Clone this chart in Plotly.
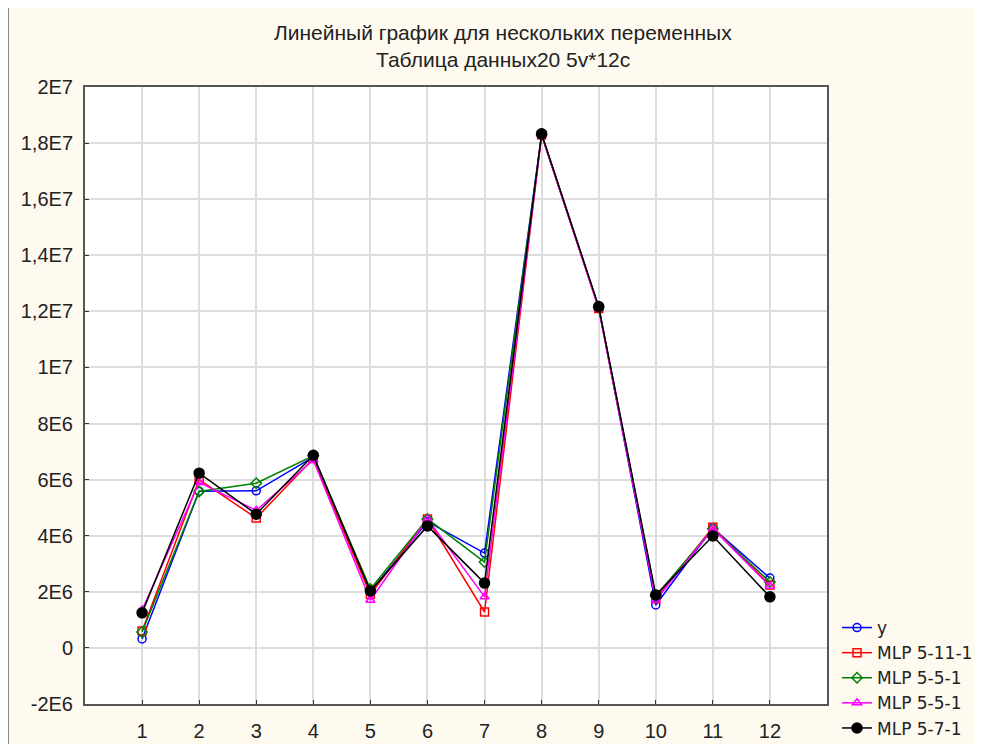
import plotly.graph_objects as go

cases = list(range(1, 13))
y_obs = [0.32e6, 5.59e6, 5.6e6, 6.8e6, 2.0e6, 4.5e6, 3.38e6, 18.3e6, 12.15e6, 1.53e6, 4.27e6, 2.49e6]
mlp_5_11_1 = [0.6e6, 6.0e6, 4.63e6, 6.75e6, 1.9e6, 4.6e6, 1.28e6, 18.3e6, 12.1e6, 1.75e6, 4.3e6, 2.24e6]
mlp_5_5_1a = [0.57e6, 5.58e6, 5.87e6, 6.85e6, 2.1e6, 4.6e6, 3.06e6, 18.3e6, 12.15e6, 1.85e6, 4.25e6, 2.35e6]
mlp_5_5_1b = [1.35e6, 5.9e6, 4.9e6, 6.7e6, 1.7e6, 4.6e6, 1.82e6, 18.3e6, 12.1e6, 1.7e6, 4.25e6, 2.2e6]
mlp_5_7_1 = [1.25e6, 6.23e6, 4.77e6, 6.87e6, 2.03e6, 4.35e6, 2.31e6, 18.33e6, 12.17e6, 1.89e6, 3.99e6, 1.82e6]

y_tickvals = [-2e6, 0, 2e6, 4e6, 6e6, 8e6, 1e7, 1.2e7, 1.4e7, 1.6e7, 1.8e7, 2e7]
y_ticktext = ["-2E6", "0", "2E6", "4E6", "6E6", "8E6", "1E7", "1,2E7", "1,4E7", "1,6E7", "1,8E7", "2E7"]

series = [
    ("y", y_obs, "#0000ff", "circle-open", 8),
    ("MLP 5-11-1", mlp_5_11_1, "#ff0000", "square-open", 8),
    ("MLP 5-5-1", mlp_5_5_1a, "#008000", "diamond-open", 8),
    ("MLP 5-5-1", mlp_5_5_1b, "#ff00ff", "triangle-up-open", 8),
    ("MLP 5-7-1", mlp_5_7_1, "#000000", "circle", 10),
]

W, H = 975, 736
L, R, T, B = 77, 156, 79, 40
pw, ph = W - L - R, H - T - B

def px(xpix):
    return (xpix - L) / pw

def py(ypix):
    return (H - B - ypix) / ph

fig = go.Figure()
for i, (name, vals, color, sym, size) in enumerate(series):
    fig.add_trace(go.Scatter(
        x=cases, y=vals, name=name, mode="lines+markers",
        line=dict(color=color, width=1.5),
        marker=dict(symbol=sym, size=size, color=color, line=dict(color=color, width=1.5)),
    ))

fig.update_layout(
    width=W, height=H,
    paper_bgcolor="#fefaf0", plot_bgcolor="#ffffff",
    margin=dict(l=L, r=R, t=T, b=B, autoexpand=False),
    font=dict(family="Liberation Sans, Arial, sans-serif", size=20, color="#222222"),
    showlegend=True,
    legend=dict(x=px(829), y=py(602), xanchor="left", yanchor="top",
                bgcolor="rgba(0,0,0,0)",
                font=dict(family="DejaVu Sans, Liberation Sans, sans-serif", size=17)),
    annotations=[
        dict(text="Линейный график для нескольких переменных", xref="paper", yref="paper",
             x=px(495), y=py(25), xanchor="center", yanchor="middle",
             showarrow=False, font=dict(size=21, color="#222222")),
        dict(text="Таблица данных20 5v*12c", xref="paper", yref="paper",
             x=px(495), y=py(52), xanchor="center", yanchor="middle",
             showarrow=False, font=dict(size=21, color="#222222")),
    ],
    shapes=[
        dict(type="rect", xref="paper", yref="paper",
             x0=px(0), y0=-0.3, x1=1.5, y1=py(-2),
             line=dict(color="#888888", width=2), fillcolor="rgba(0,0,0,0)", layer="below"),
    ],
)
fig.update_xaxes(range=[0, 13], tickvals=cases, ticktext=[str(c) for c in cases],
                 showgrid=True, gridcolor="#dddddd", gridwidth=1.5,
                 showline=True, linecolor="#555555", linewidth=2, mirror=True,
                 ticks="inside", ticklen=4, tickcolor="#333333", zeroline=False,
                 tickfont=dict(size=20), ticklabelstandoff=8)
fig.update_yaxes(range=[-2e6, 2e7], tickvals=y_tickvals, ticktext=y_ticktext,
                 showgrid=True, gridcolor="#dddddd", gridwidth=1.5,
                 showline=True, linecolor="#555555", linewidth=2, mirror=True,
                 ticks="inside", ticklen=4, tickcolor="#333333", zeroline=False,
                 tickfont=dict(size=20), ticklabelstandoff=6)

fig.write_html("out.html")
